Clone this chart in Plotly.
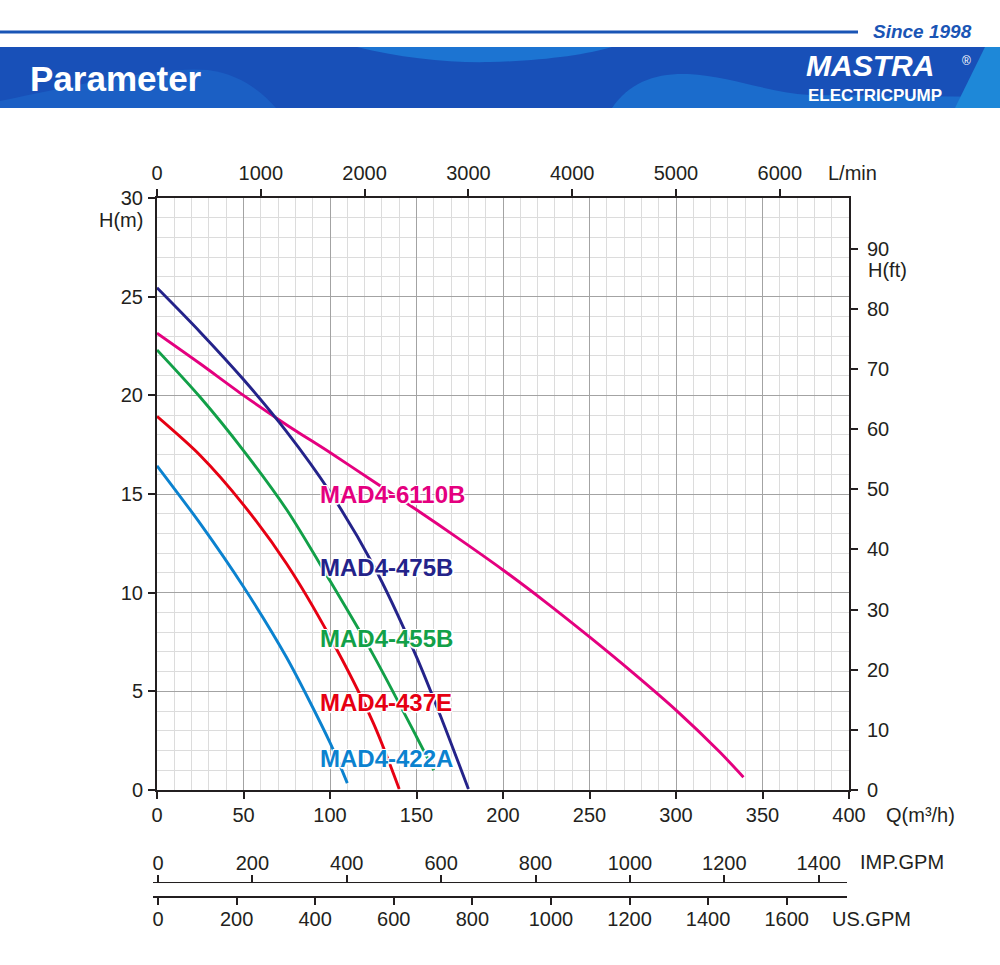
import plotly.graph_objects as go

# ---------------- data ----------------
q_6110b = [0, 25, 50, 75, 100, 125, 150, 175, 200, 225, 250, 275, 300, 325, 339]
h_6110b = [23.15, 21.6, 20.0, 18.5, 17.1, 15.65, 14.2, 12.7, 11.15, 9.5, 7.76, 5.95, 4.05, 1.95, 0.65]
q_475b = [0, 25, 50, 75, 100, 125, 150, 165, 180]
h_475b = [25.45, 23.2, 20.8, 18.15, 15.1, 11.4, 6.75, 3.5, 0.05]
q_455b = [0, 25, 50, 75, 100, 125, 150, 160]
h_455b = [22.3, 19.9, 17.2, 14.2, 10.6, 6.85, 2.7, 1.0]
q_437e = [0, 25, 50, 75, 100, 125, 140]
h_437e = [18.93, 16.95, 14.45, 11.45, 7.75, 3.4, 0.05]
q_422a = [0, 25, 50, 75, 100, 110]
h_422a = [16.43, 13.5, 10.3, 6.7, 2.4, 0.35]

series_names = ["MAD4-6110B", "MAD4-475B", "MAD4-455B", "MAD4-437E", "MAD4-422A"]
series_colors = ["#e4007f", "#24238a", "#12a048", "#e60012", "#0b82cf"]
series_q = [q_6110b, q_475b, q_455b, q_437e, q_422a]
series_h = [h_6110b, h_475b, h_455b, h_437e, h_422a]
# label anchor positions (Q, H) for curve names
label_q = [93.0, 93.0, 93.0, 93.0, 93.0]
label_h = [15.0, 11.3, 7.7, 4.45, 1.62]

q_ticks = [0, 50, 100, 150, 200, 250, 300, 350, 400]
h_ticks = [0, 5, 10, 15, 20, 25, 30]
lmin_ticks = [0, 1000, 2000, 3000, 4000, 5000, 6000]
ft_ticks = [0, 10, 20, 30, 40, 50, 60, 70, 80, 90]
imp_ticks = [0, 200, 400, 600, 800, 1000, 1200, 1400]
us_ticks = [0, 200, 400, 600, 800, 1000, 1200, 1400, 1600]

# unit conversions
M3H_PER_LMIN = 60.0 / 1000.0
M_PER_FT = 0.3048
M3H_PER_IMPGPM = 0.272765
M3H_PER_USGPM = 0.227125

# ---------------- layout geometry (pixels) ----------------
W, H = 1000, 965
PX0, PX1 = 153, 849      # paper left/right
PY0, PY1 = 198, 897      # paper top/bottom
PLOT_L, PLOT_B = 157, 790
Q_MAX, H_MAX = 400, 30
PPU = (PX1 - PLOT_L) / Q_MAX   # pixels per m3/h


def px(x):
    return (x - PX0) / (PX1 - PX0)


def py(y):
    return (PY1 - y) / (PY1 - PY0)


INK = "#231f20"
FONT = "Liberation Sans, Arial, sans-serif"
tf = dict(family=FONT, size=20, color=INK)

fig = go.Figure()

for name, col, q, h in zip(series_names, series_colors, series_q, series_h):
    fig.add_trace(go.Scatter(x=q, y=h, mode="lines", name=name,
                             line=dict(color=col, width=2.9, shape="spline", smoothing=0.8),
                             hoverinfo="skip", showlegend=False))

# dummy traces so that secondary axes render
fig.add_trace(go.Scatter(x=[None], y=[None], xaxis="x2", yaxis="y", showlegend=False, hoverinfo="skip"))
fig.add_trace(go.Scatter(x=[None], y=[None], xaxis="x", yaxis="y2", showlegend=False, hoverinfo="skip"))
fig.add_trace(go.Scatter(x=[None], y=[None], xaxis="x3", yaxis="y3", showlegend=False, hoverinfo="skip"))
fig.add_trace(go.Scatter(x=[None], y=[None], xaxis="x4", yaxis="y3", showlegend=False, hoverinfo="skip"))

xdom0 = px(PLOT_L)
ydom0 = py(PLOT_B)
gauge_dom1 = px(847)
zero_px = 158
imp_range = [(PX0 - zero_px) / (PPU * M3H_PER_IMPGPM), (847 - zero_px) / (PPU * M3H_PER_IMPGPM)]
us_range = [(PX0 - zero_px) / (PPU * M3H_PER_USGPM), (847 - zero_px) / (PPU * M3H_PER_USGPM)]

common_line = dict(showline=True, linecolor=INK, linewidth=2, ticks="outside",
                   ticklen=7, tickwidth=1.5, tickcolor=INK, tickfont=tf, zeroline=False)

fig.update_layout(
    width=W, height=H,
    margin=dict(l=PX0, r=W - PX1, t=PY0, b=H - PY1, autoexpand=False),
    paper_bgcolor="white", plot_bgcolor="white",
    showlegend=False,
    xaxis=dict(range=[0, Q_MAX], domain=[xdom0, 1], anchor="y", side="bottom",
               tickvals=q_ticks, showgrid=True, gridcolor="#a3a3a3", gridwidth=1.3,
               minor=dict(dtick=10, tick0=0, showgrid=True, gridcolor="#dcdcdc", gridwidth=1.3),
               ticklabelstandoff=-1, **common_line),
    yaxis=dict(range=[0, H_MAX], domain=[ydom0, 1], anchor="x", side="left",
               tickvals=h_ticks, showgrid=True, gridcolor="#a3a3a3", gridwidth=1.3,
               minor=dict(dtick=1, tick0=0, showgrid=True, gridcolor="#dcdcdc", gridwidth=1.3),
               ticklabelstandoff=1, **common_line),
    xaxis2=dict(range=[0, Q_MAX / M3H_PER_LMIN], overlaying="x", anchor="y", side="top",
                tickvals=lmin_ticks, showgrid=False, ticklabelstandoff=1, **common_line),
    yaxis2=dict(range=[0, H_MAX / M_PER_FT], overlaying="y", anchor="x", side="right",
                tickvals=ft_ticks, showgrid=False, ticklabelstandoff=5, **common_line),
    xaxis3=dict(range=imp_range, domain=[0, gauge_dom1], anchor="free", position=py(883),
                side="top", tickvals=imp_ticks, showgrid=False, ticklabelstandoff=-3, **common_line),
    xaxis4=dict(range=us_range, domain=[0, gauge_dom1], anchor="free", position=0,
                side="bottom", tickvals=us_ticks, showgrid=False, ticklabelstandoff=-3, **common_line),
    yaxis3=dict(domain=[0, 0.02], visible=False, showgrid=False, anchor="x3"),
)

ann = []
# curve labels with white halo
halo = "white 1px 1px 0px, white -1px -1px 0px, white 1px -1px 0px, white -1px 1px 0px, white 0px 2px 1px, white 2px 0px 1px"
for name, col, lq, lh in zip(series_names, series_colors, label_q, label_h):
    ann.append(dict(x=lq, y=lh, xref="x", yref="y", text="<b>" + name + "</b>", showarrow=False,
                    xanchor="left", yanchor="middle",
                    font=dict(family=FONT, size=24, color=col, shadow=halo)))


def t(text, x, y, xa="left", ya="middle", size=20, color=INK):
    return dict(x=px(x), y=py(y), xref="paper", yref="paper", text=text, showarrow=False,
                xanchor=xa, yanchor=ya, font=dict(family=FONT, size=size, color=color))


# axis titles
ann.append(t("L/min", 826, 173))
ann.append(t("H(m)", 145, 220, xa="right"))
ann.append(t("H(ft)", 866, 270))
ann.append(t("Q(m³/h)", 884, 815))
ann.append(t("IMP.GPM", 858, 862))
ann.append(t("US.GPM", 830, 919))

# header texts
ann.append(t("<b><i>Since 1998</i></b>", 974, 32, xa="right", size=19, color="#1a55b5"))
ann.append(t("<b>Parameter</b>", 28, 78, size=35, color="white"))
ann.append(t("<b><i>MASTRA</i></b>", 804, 84, ya="bottom", size=30, color="white"))
ann.append(t("®", 960, 61, size=12, color="white"))
ann.append(t("<b>ELECTRICPUMP</b>", 806, 84, ya="top", size=17, color="white"))

fig.update_layout(annotations=ann)


def path(pts_cmds):
    out = []
    for cmd, pts in pts_cmds:
        s = cmd
        if pts:
            s += " " + " ".join(f"{px(a):.5f},{py(b):.5f}" for a, b in pts)
        out.append(s)
    return " ".join(out)


shapes = [
    dict(type="line", xref="paper", yref="paper", x0=px(0), x1=px(858), y0=py(32), y1=py(32),
         line=dict(color="#1a55b5", width=3)),
    dict(type="rect", xref="paper", yref="paper", x0=px(0), x1=px(1000), y0=py(108), y1=py(47),
         fillcolor="#1850b8", line=dict(width=0)),
    dict(type="path", xref="paper", yref="paper", fillcolor="#1b5fc4", line=dict(width=0),
         path=path([("M", [(0, 108)]), ("L", [(0, 101)]),
                    ("C", [(80, 84), (165, 66), (208, 70)]),
                    ("C", [(240, 74), (262, 92), (276, 108)]), ("Z", [])])),
    dict(type="path", xref="paper", yref="paper", fillcolor="#1c74d2", line=dict(width=0),
         path=path([("M", [(357, 47)]), ("C", [(400, 58), (450, 63), (490, 62)]),
                    ("C", [(540, 61), (585, 55), (612, 47)]), ("Z", [])])),
    dict(type="path", xref="paper", yref="paper", fillcolor="#1b6ccc", line=dict(width=0),
         path=path([("M", [(612, 108)]), ("C", [(630, 82), (655, 73), (688, 74)]),
                    ("C", [(730, 76), (765, 92), (810, 95)]),
                    ("L", [(1000, 97)]), ("L", [(1000, 108)]), ("Z", [])])),
    dict(type="path", xref="paper", yref="paper", fillcolor="#1e88d8", line=dict(width=0),
         path=path([("M", [(955, 108)]), ("L", [(985, 47)]), ("L", [(1000, 47)]),
                    ("L", [(1000, 108)]), ("Z", [])])),
]
fig.update_layout(shapes=shapes)

fig.write_html("out.html")
